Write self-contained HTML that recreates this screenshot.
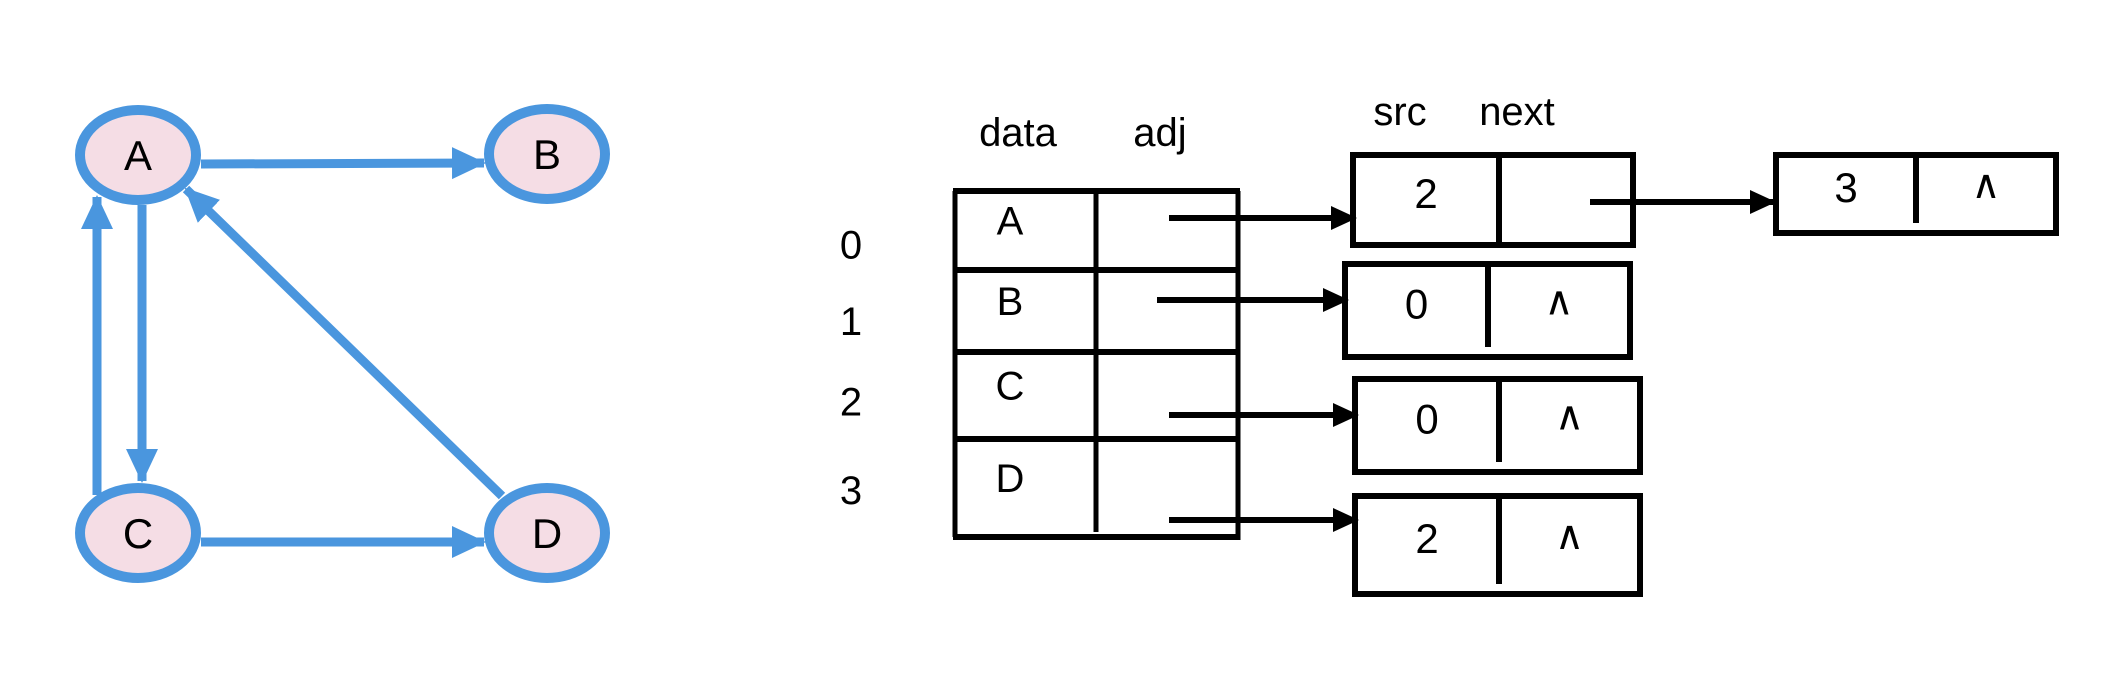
<!DOCTYPE html>
<html><head><meta charset="utf-8"><style>
html,body{margin:0;padding:0;background:#fff;}
svg{display:block;}
text{font-family:"Liberation Sans",sans-serif;}
</style></head>
<body>
<svg id="chart" width="2124" height="684" viewBox="0 0 2124 684" xmlns="http://www.w3.org/2000/svg">
<defs>
<marker id="bh" markerUnits="userSpaceOnUse" markerWidth="34" markerHeight="34" refX="32" refY="16" orient="auto" viewBox="0 0 34 32"><path d="M0,0 L34,16 L0,32 Z" fill="#4a96de"/></marker>
<marker id="kh" markerUnits="userSpaceOnUse" markerWidth="26" markerHeight="26" refX="24" refY="12" orient="auto" viewBox="0 0 26 24"><path d="M0,0 L26,12 L0,24 Z" fill="#000"/></marker>
</defs>
<g id="graph"></g>
<g id="table"></g>
<g id="nodes"></g>
</svg>
<script>
const vertexNames = ["A","B","C","D"];
const vertexCenters = [[138,155],[547,154],[138,533],[547,533]];
const graphEdges = [[0,1],[0,2],[2,0],[2,3],[3,0]];
const rowIndices = ["0","1","2","3"];
const edgeSrc = ["2","0","0","2"];
const chainSrc = ["3"];

const NS="http://www.w3.org/2000/svg";
function mk(tag,attrs,parent){const e=document.createElementNS(NS,tag);for(const k in attrs)e.setAttribute(k,attrs[k]);parent.appendChild(e);return e;}
const g=document.getElementById('graph');
const RX=63,RY=50;
graphEdges.forEach(([s,t],i)=>{
  let [x1,y1]=vertexCenters[s],[x2,y2]=vertexCenters[t];
  let sx,sy,tx,ty;
  if(Math.abs(y1-y2)<5){sx=x1+RX;tx=x2-RX;sy=y1+9;ty=y2+9;}
  else if(Math.abs(x1-x2)<5){
    if(y2>y1){sx=tx=x1+4;sy=y1+RY;ty=y2-RY-2;}
    else{sx=tx=x1-41;sy=y1-RY+12;ty=y2+RY-8;}
  }
  else{sx=x1-45;sy=y1-37;tx=x2+48;ty=y2+34;}
  const l=mk('line',{x1:sx,y1:sy,x2:tx,y2:ty,stroke:'#4a96de','stroke-width':9,'marker-end':'url(#bh)'},g);
  
  
});
vertexCenters.forEach(([cx,cy],i)=>{
  const e=mk('ellipse',{cx:cx,cy:cy,rx:RX-5,ry:RY-5,fill:'#f5dde5',stroke:'#4a96de','stroke-width':10},g);
  
  
  const t=mk('text',{x:cx,y:cy+15,'font-size':42,'text-anchor':'middle',fill:'#000'},g);
  t.textContent=vertexNames[i];
  
  
});
const tb=document.getElementById('table');
const TL=955,TM=1096,TR=1238,rowY=[191,270,352,439,537];
let h1=mk('text',{x:1018,y:146,'font-size':40,'text-anchor':'middle'},tb);h1.textContent='data';

let h2=mk('text',{x:1160,y:146,'font-size':40,'text-anchor':'middle'},tb);h2.textContent='adj';

let h3=mk('text',{x:1400,y:125,'font-size':40,'text-anchor':'middle'},tb);h3.textContent='src';

let h4=mk('text',{x:1517,y:125,'font-size':40,'text-anchor':'middle'},tb);h4.textContent='next';

const bw=5;
[[TL,rowY[0],TL,rowY[4]],[TM,rowY[0],TM,rowY[4]-5],[TR,rowY[0],TR,rowY[4]+3]].forEach(a=>{const l=mk('line',{x1:a[0],y1:a[1],x2:a[2],y2:a[3],stroke:'#000','stroke-width':bw},tb);});
rowY.forEach(y=>{const l=mk('line',{x1:TL-2,y1:y,x2:TR+2,y2:y,stroke:'#000','stroke-width':6},tb);});
rowIndices.forEach((r,i)=>{
  const t=mk('text',{x:851,y:(rowY[i]+rowY[i+1])/2+28-i*4,'font-size':40,'text-anchor':'middle'},tb);t.textContent=r;
  
  const d=mk('text',{x:1010,y:(rowY[i]+rowY[i+1])/2+4,'font-size':40,'text-anchor':'middle'},tb);d.textContent=vertexNames[i];
  
});
const nd=document.getElementById('nodes');
const boxes=[[1353,155,1499,1633,245],[1345,264,1488,1630,357],[1355,379,1499,1640,472],[1355,496,1499,1640,594]];
const arrY=[218,300,415,520],arrX=[1169,1157,1169,1169];
function box(b,src,nm,showNull){
  const [l,t,m,r,bt]=b;
  const p=mk('rect',{x:l,y:t,width:r-l,height:bt-t,fill:'none',stroke:'#000','stroke-width':6},nd);
  
  const ml=mk('line',{x1:m,y1:t,x2:m,y2:bt-(showNull?10:0),stroke:'#000','stroke-width':6},nd);
  
  const s=mk('text',{x:(l+m)/2,y:t+(bt-t)/2+8,'font-size':42,'text-anchor':'middle'},nd);s.textContent=src;
  
  if(showNull){const n=mk('text',{x:(m+r)/2,y:t+(bt-t)/2+4,'font-size':40,'text-anchor':'middle'},nd);n.textContent='∧';
  }
}
edgeSrc.forEach((s,i)=>{
  box(boxes[i],s,'edge-node-'+i,i!==0);
  const a=mk('line',{x1:arrX[i],y1:arrY[i],x2:boxes[i][0]+2,y2:arrY[i],stroke:'#000','stroke-width':6,'marker-end':'url(#kh)'},nd);
  
});
box([1776,155,1916,2056,233],chainSrc[0],'edge-node-chain',true);
const ca=mk('line',{x1:1590,y1:202,x2:1774,y2:202,stroke:'#000','stroke-width':6,'marker-end':'url(#kh)'},nd);

</script>
</body></html>
